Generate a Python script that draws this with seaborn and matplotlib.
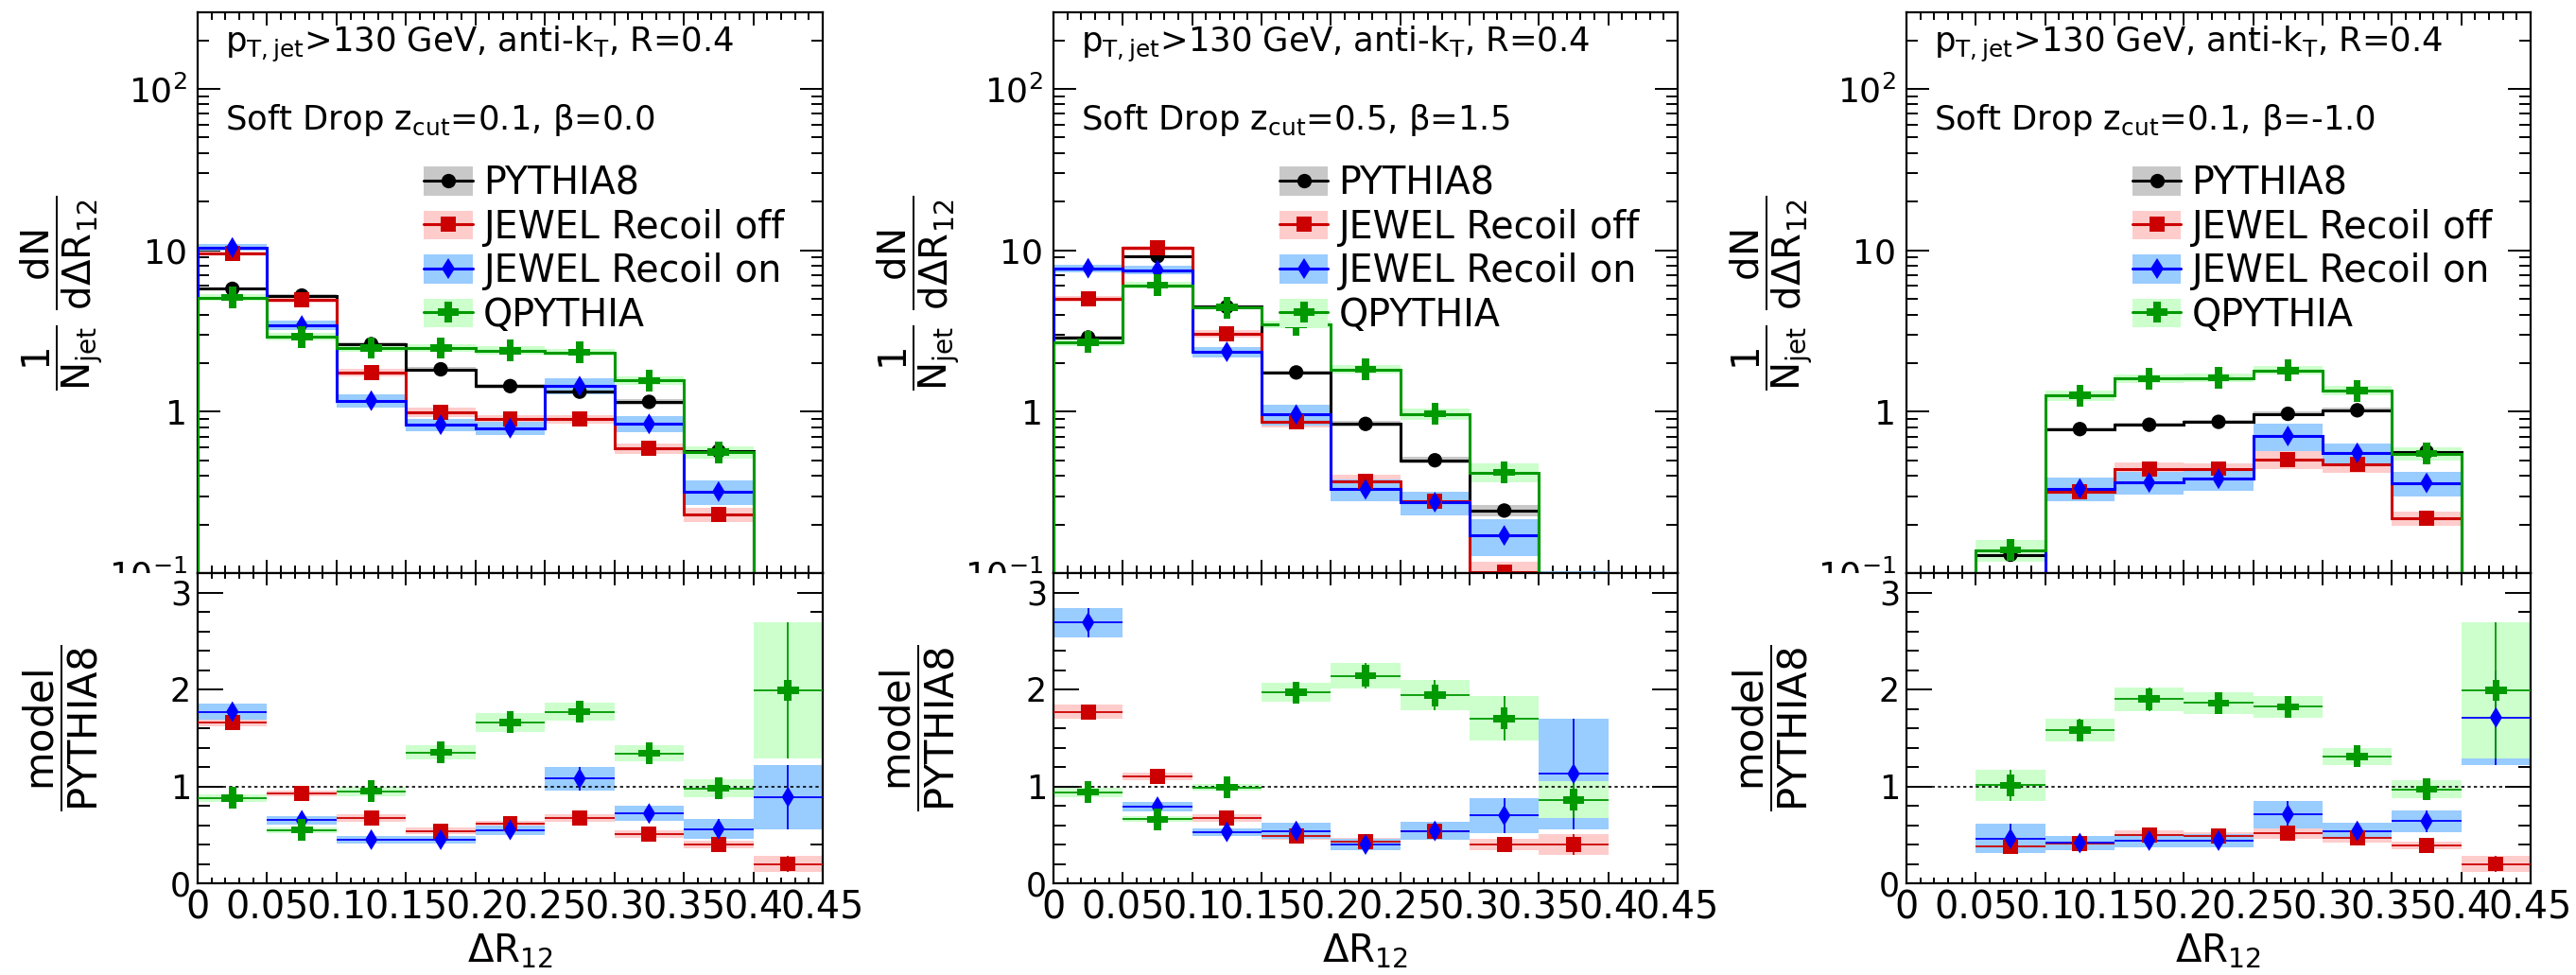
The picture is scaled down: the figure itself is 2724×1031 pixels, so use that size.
import numpy as np
import matplotlib
matplotlib.use("Agg")
import matplotlib.pyplot as plt
from matplotlib.patches import Patch, Rectangle
from matplotlib.lines import Line2D
from matplotlib.ticker import (FixedLocator, FixedFormatter, MultipleLocator,
                               LogLocator, NullFormatter)
import seaborn as sns

# ---------------------------------------------------------------- data
bin_edges = [0.0, 0.05, 0.10, 0.15, 0.20, 0.25, 0.30, 0.35, 0.40, 0.45]
x_tick_values = [0.0, 0.05, 0.10, 0.15, 0.20, 0.25, 0.30, 0.35, 0.40, 0.45]
x_tick_labels = ["0", "0.05", "0.1", "0.15", "0.2", "0.25", "0.3", "0.35", "0.4", "0.45"]
top_y_ticks = [0.1, 1, 10, 100]
top_y_labels = [r"$10^{-1}$", "1", "10", r"$10^{2}$"]
ratio_y_ticks = [0, 1, 2, 3]
ratio_y_labels = ["0", "1", "2", "3"]
series_names = ["PYTHIA8", "JEWEL Recoil off", "JEWEL Recoil on", "QPYTHIA"]
header_text = r"$p_{T,jet}$>130 GeV, anti-$k_{T}$, R=0.4"
sd_texts = [r"Soft Drop $z_{cut}$=0.1, $\beta$=0.0",
            r"Soft Drop $z_{cut}$=0.5, $\beta$=1.5",
            r"Soft Drop $z_{cut}$=0.1, $\beta$=-1.0"]

# panel 1 : zcut=0.1, beta=0.0   (1/Njet dN/dDR12)
pythia_1 = [5.77, 5.24, 2.62, 1.83, 1.44, 1.33, 1.15, 0.57, 0.030]
jewel_off_1 = [9.58, 4.91, 1.75, 0.99, 0.90, 0.90, 0.59, 0.23, 0.006]
jewel_on_1 = [10.4, 3.42, 1.17, 0.83, 0.79, 1.44, 0.84, 0.32, 0.027]
qpythia_1 = [5.10, 2.91, 2.48, 2.48, 2.39, 2.33, 1.56, 0.56, 0.060]
pythia_relerr_1 = [0.02, 0.02, 0.03, 0.03, 0.035, 0.04, 0.045, 0.05, 0.30]
# ratios model / PYTHIA8 and their uncertainties
ratio_off_1 = [1.66, 0.93, 0.67, 0.54, 0.61, 0.67, 0.51, 0.40, 0.20]
ratio_off_err_1 = [0.04, 0.03, 0.04, 0.035, 0.035, 0.04, 0.04, 0.04, 0.08]
ratio_on_1 = [1.77, 0.65, 0.45, 0.45, 0.55, 1.08, 0.72, 0.56, 0.89]
ratio_on_err_1 = [0.085, 0.045, 0.04, 0.04, 0.05, 0.12, 0.08, 0.10, 0.33]
ratio_qp_1 = [0.88, 0.55, 0.95, 1.35, 1.66, 1.77, 1.34, 0.98, 1.99]
ratio_qp_err_1 = [0.04, 0.03, 0.05, 0.07, 0.10, 0.09, 0.08, 0.09, 0.70]

# panel 2 : zcut=0.5, beta=1.5
pythia_2 = [2.88, 9.18, 4.46, 1.75, 0.84, 0.50, 0.244, 0.060, 0.0]
jewel_off_2 = [4.99, 10.3, 3.04, 0.87, 0.372, 0.28, 0.102, 0.024, 0.0]
jewel_on_2 = [7.74, 7.54, 2.35, 0.96, 0.33, 0.275, 0.171, 0.068, 0.0]
qpythia_2 = [2.70, 6.08, 4.42, 3.47, 1.83, 0.97, 0.42, 0.052, 0.0]
pythia_relerr_2 = [0.03, 0.02, 0.02, 0.03, 0.04, 0.05, 0.08, 0.15, 0.0]
ratio_off_2 = [1.77, 1.10, 0.67, 0.49, 0.43, 0.54, 0.40, 0.40, np.nan]
ratio_off_err_2 = [0.07, 0.04, 0.04, 0.04, 0.04, 0.03, 0.06, 0.11, np.nan]
ratio_on_2 = [2.69, 0.79, 0.53, 0.54, 0.40, 0.54, 0.70, 1.13, np.nan]
ratio_on_err_2 = [0.15, 0.045, 0.04, 0.08, 0.06, 0.09, 0.18, 0.57, np.nan]
ratio_qp_2 = [0.94, 0.66, 0.99, 1.97, 2.14, 1.94, 1.70, 0.86, np.nan]
ratio_qp_err_2 = [0.05, 0.03, 0.03, 0.10, 0.13, 0.155, 0.23, 0.19, np.nan]

# panel 3 : zcut=0.1, beta=-1.0
pythia_3 = [0.0, 0.130, 0.78, 0.83, 0.865, 0.97, 1.02, 0.565, 0.030]
jewel_off_3 = [0.0, 0.052, 0.319, 0.44, 0.444, 0.507, 0.469, 0.218, 0.006]
jewel_on_3 = [0.0, 0.061, 0.334, 0.364, 0.384, 0.707, 0.556, 0.362, 0.051]
qpythia_3 = [0.0, 0.139, 1.26, 1.60, 1.62, 1.80, 1.35, 0.55, 0.060]
pythia_relerr_3 = [0.0, 0.08, 0.03, 0.03, 0.03, 0.03, 0.035, 0.05, 0.30]
ratio_off_3 = [np.nan, 0.38, 0.41, 0.50, 0.49, 0.52, 0.47, 0.39, 0.20]
ratio_off_err_3 = [np.nan, 0.065, 0.035, 0.05, 0.04, 0.065, 0.05, 0.04, 0.08]
ratio_on_3 = [np.nan, 0.46, 0.415, 0.44, 0.44, 0.71, 0.54, 0.64, 1.71]
ratio_on_err_3 = [np.nan, 0.15, 0.07, 0.07, 0.07, 0.14, 0.08, 0.11, 0.49]
ratio_qp_3 = [np.nan, 1.01, 1.58, 1.90, 1.86, 1.82, 1.31, 0.97, 1.99]
ratio_qp_err_3 = [np.nan, 0.16, 0.12, 0.12, 0.11, 0.11, 0.09, 0.095, 0.70]

panels = [
    dict(top=[pythia_1, jewel_off_1, jewel_on_1, qpythia_1], pyrel=pythia_relerr_1,
         ratio=[ratio_off_1, ratio_on_1, ratio_qp_1],
         rerr=[ratio_off_err_1, ratio_on_err_1, ratio_qp_err_1], sd=sd_texts[0]),
    dict(top=[pythia_2, jewel_off_2, jewel_on_2, qpythia_2], pyrel=pythia_relerr_2,
         ratio=[ratio_off_2, ratio_on_2, ratio_qp_2],
         rerr=[ratio_off_err_2, ratio_on_err_2, ratio_qp_err_2], sd=sd_texts[1]),
    dict(top=[pythia_3, jewel_off_3, jewel_on_3, qpythia_3], pyrel=pythia_relerr_3,
         ratio=[ratio_off_3, ratio_on_3, ratio_qp_3],
         rerr=[ratio_off_err_3, ratio_on_err_3, ratio_qp_err_3], sd=sd_texts[2]),
]

# ---------------------------------------------------------------- style
sns.set_style("ticks")
plt.rcParams["font.family"] = ["DejaVu Sans"]
plt.rcParams["mathtext.fontset"] = "dejavusans"
plt.rcParams["mathtext.default"] = "regular"
for key in ["axes.edgecolor", "xtick.color", "ytick.color", "text.color", "axes.labelcolor"]:
    plt.rcParams[key] = "black"

colors = ["#000000", "#cc0000", "#0000ff", "#009900"]
band_colors = ["#c8c8c8", "#ffcccc", "#99ccff", "#ccffcc"]
marker_styles = ["o", "s", "d", "P"]
marker_sizes = [11, 11.5, 11.2, 16.5]

W, H = 2724, 1031
fig = plt.figure(figsize=(W / 100, H / 100), dpi=100)
panel_left_px = [209, 1114, 2016]
panel_width_px = [661, 660, 660]
top_y0, split_y, bot_y1 = 13, 606, 934

edges = np.array(bin_edges)
centers = 0.5 * (edges[:-1] + edges[1:])
bw = edges[1] - edges[0]

for p, (l, w) in enumerate(zip(panel_left_px, panel_width_px)):
    d = panels[p]
    axt = fig.add_axes([l / W, (H - split_y) / H, w / W, (split_y - top_y0) / H])
    axb = fig.add_axes([l / W, (H - bot_y1) / H, w / W, (bot_y1 - split_y) / H], zorder=2)

    # -------- top panel
    axt.set_yscale("log")
    ratio_rel = [None] + [np.array(r, float) for r in d["rerr"]]
    ratio_val = [None] + [np.array(r, float) for r in d["ratio"]]
    for k in range(4):
        vals = np.array(d["top"][k], float)
        if k == 0:
            rel = np.array(d["pyrel"], float)
        else:
            rel = np.nan_to_num(ratio_rel[k] / ratio_val[k])
        err = vals * rel
        m = vals > 0
        axt.bar(centers[m], 2 * err[m], bottom=(vals - err)[m], width=bw,
                color=band_colors[k], linewidth=0, zorder=2)
        axt.stairs(vals, edges, baseline=0, color=colors[k], linewidth=2.2, zorder=3)
        sns.scatterplot(x=centers[m], y=vals[m], ax=axt, marker=marker_styles[k],
                        s=marker_sizes[k] ** 2, color=colors[k], edgecolor="none",
                        linewidth=0, zorder=4, legend=False)

    axt.text(0.044, 0.929, header_text, transform=axt.transAxes, fontsize=25.5,
             ha="left", va="baseline", zorder=10)
    axt.text(0.044, 0.791, d["sd"], transform=axt.transAxes, fontsize=25.5,
             ha="left", va="baseline", zorder=10)

    handles = [(Patch(facecolor=band_colors[k], edgecolor="none"),
                Line2D([], [], color=colors[k], linewidth=2.2, marker=marker_styles[k],
                       markersize=marker_sizes[k], markeredgewidth=0))
               for k in range(4)]
    axt.legend(handles, series_names, loc="upper left", bbox_to_anchor=(0.3615, 0.728),
               frameon=False, fontsize=28.5, borderpad=0, borderaxespad=0,
               labelspacing=0.165, handlelength=1.31, handleheight=0.81,
               handletextpad=0.28, numpoints=1)

    # -------- ratio panel
    axb.axhline(1, color="black", linestyle=(0, (2, 2)), linewidth=1.2, zorder=3)
    for j in range(3):
        r = np.array(d["ratio"][j], float)
        e = np.array(d["rerr"][j], float)
        m = ~np.isnan(r)
        axb.bar(centers[m], 2 * e[m], bottom=(r - e)[m], width=bw,
                color=band_colors[j + 1], linewidth=0, zorder=2)
        axb.errorbar(centers[m], r[m], xerr=bw / 2, yerr=e[m], fmt="none",
                     ecolor=colors[j + 1], elinewidth=1.3, capsize=0, zorder=4)
        sns.scatterplot(x=centers[m], y=r[m], ax=axb, marker=marker_styles[j + 1],
                        s=marker_sizes[j + 1] ** 2, color=colors[j + 1],
                        edgecolor="none", linewidth=0, zorder=5, legend=False)

    # -------- axes cosmetics
    for ax in (axt, axb):
        ax.set_xlim(0, 0.45)
        ax.xaxis.set_major_locator(FixedLocator(x_tick_values))
        ax.xaxis.set_minor_locator(MultipleLocator(0.01))
        ax.tick_params(which="both", direction="in", top=True, right=True,
                       width=1.4, colors="black")
        for sp in ax.spines.values():
            sp.set_linewidth(1.6)
            sp.set_color("black")

    axt.set_ylim(0.1, 298)
    axt.yaxis.set_major_locator(FixedLocator(top_y_ticks))
    axt.yaxis.set_major_formatter(FixedFormatter(top_y_labels))
    axt.yaxis.set_minor_locator(LogLocator(base=10, subs=(2, 3, 4, 5, 6, 7, 8, 9)))
    axt.yaxis.set_minor_formatter(NullFormatter())
    axt.tick_params(axis="x", which="major", length=10, labelbottom=False)
    axt.tick_params(axis="x", which="minor", length=5.5)
    axt.tick_params(axis="y", which="major", length=17, labelsize=26, pad=8)
    axt.tick_params(axis="y", which="minor", length=8.5)
    axt.set_xlabel("")
    axt.set_ylabel(r"$\dfrac{1}{N_{jet}}\ \dfrac{dN}{d\Delta R_{12}}$", fontsize=29,
                   va="center", ha="center")
    axt.yaxis.set_label_coords(-0.218, 0.5)

    axb.set_ylim(0, 3.2)
    axb.yaxis.set_major_locator(FixedLocator(ratio_y_ticks))
    axb.yaxis.set_major_formatter(FixedFormatter(ratio_y_labels))
    axb.yaxis.set_minor_locator(MultipleLocator(0.2))
    axb.xaxis.set_major_formatter(FixedFormatter(x_tick_labels))
    axb.tick_params(axis="y", which="major", length=19.5, labelsize=25, pad=5)
    axb.tick_params(axis="y", which="minor", length=9.5)
    axb.tick_params(axis="x", which="major", length=9, labelsize=28.5, pad=5)
    axb.tick_params(axis="x", which="minor", length=4.5)
    axb.set_ylabel(r"$\dfrac{model}{PYTHIA8}$", fontsize=30, va="center", ha="center")
    axb.yaxis.set_label_coords(-0.218, 0.5)
    axb.set_xlabel(r"$\Delta R_{12}$", fontsize=29, va="baseline")
    axb.xaxis.set_label_coords(0.5, -0.253)

    # the lower pad hides the bottom half of the "10^-1" label, as in the original
    fig.add_artist(Rectangle(((l - 125) / W, (H - split_y - 30) / H), 123 / W, 30 / H,
                             transform=fig.transFigure, facecolor="white",
                             edgecolor="none", zorder=1))

fig.savefig("out.png", dpi=100)
